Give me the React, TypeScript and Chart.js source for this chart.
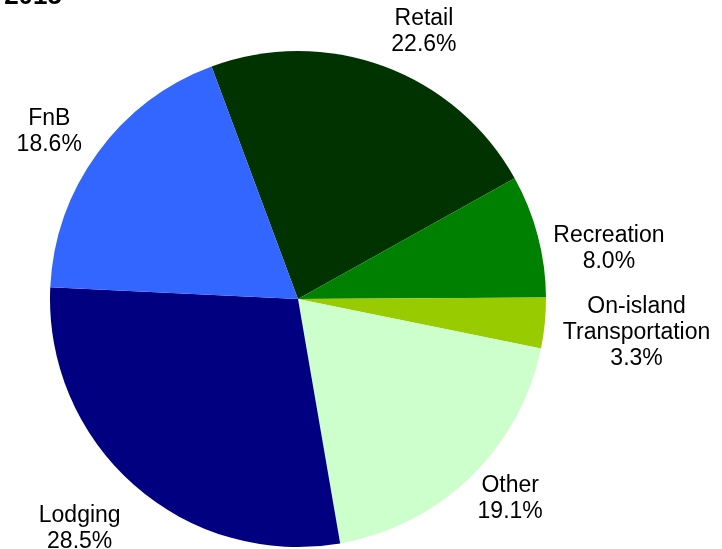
import React, { useEffect, useRef } from "react";
import { Chart, registerables } from "chart.js";

Chart.register(...registerables);

const categories = ["Retail", "Recreation", "On-island Transportation", "Other", "Lodging", "FnB"];
const shares = [22.6, 8.0, 3.3, 19.1, 28.5, 18.6];
const sliceColors = ["#003300", "#008000", "#99CC00", "#CCFFCC", "#000080", "#3366FF"];
const titleText = "2015";
// small layout nudges (px) applied to each computed outside label position
const labelNudgeX = [24, 2, 4, 3, -16, -6];
const labelNudgeY = [9, 31, 1, -16, 1, 10];

const FONT = '23px "Liberation Sans", Arial, sans-serif';
const LINE_H = 26;
const GAP = 11;

const labelPlugin = {
  id: "outsideLabels",
  afterDraw(chart: any) {
    const ctx = chart.ctx;
    const meta = chart.getDatasetMeta(0);
    ctx.save();
    ctx.font = FONT;
    ctx.fillStyle = "#000";
    ctx.textAlign = "center";
    ctx.textBaseline = "middle";
    meta.data.forEach((arc: any, i: number) => {
      const p = arc.getProps(["x", "y", "startAngle", "endAngle", "outerRadius"], true);
      const mid = (p.startAngle + p.endAngle) / 2;
      const dx = Math.cos(mid);
      const dy = Math.sin(mid);
      const name = categories[i];
      let lines: string[] = ctx.measureText(name).width > 140 ? name.split(" ") : [name];
      lines = lines.concat([shares[i].toFixed(1) + "%"]);
      const w = Math.max(...lines.map((l) => ctx.measureText(l).width));
      const h = lines.length * LINE_H;
      const t = Math.abs(dx) * w / 2 + Math.abs(dy) * h / 2;
      const r = p.outerRadius + GAP + t;
      const cx = p.x + dx * r + labelNudgeX[i];
      const cy = p.y + dy * r + labelNudgeY[i];
      lines.forEach((l, k) => {
        ctx.fillText(l, cx, cy - h / 2 + LINE_H * (k + 0.5));
      });
    });
    // partially visible title at top
    ctx.font = 'bold 26px "Liberation Sans", Arial, sans-serif';
    ctx.textAlign = "right";
    ctx.textBaseline = "alphabetic";
    ctx.fillText(titleText, 62, 4);
    ctx.restore();
  },
};

export default function App() {
  const ref = useRef<HTMLCanvasElement>(null);
  useEffect(() => {
    if (!ref.current) return;
    const chart = new Chart(ref.current, {
      type: "pie",
      data: {
        labels: categories,
        datasets: [
          {
            data: shares,
            backgroundColor: sliceColors,
            borderWidth: 0,
          },
        ],
      },
      options: {
        responsive: false,
        animation: false,
        devicePixelRatio: 1,
        rotation: -20.4,
        layout: { padding: { left: 50, right: 176, top: 51, bottom: 2 } },
        plugins: {
          legend: { display: false },
          tooltip: { enabled: false },
          title: { display: false },
        },
      },
      plugins: [labelPlugin],
    });
    return () => chart.destroy();
  }, []);
  return (
    <div style={{ position: "fixed", left: 0, top: 0, width: 722, height: 549, background: "#fff" }}>
      <canvas ref={ref} width={722} height={549} style={{ width: 722, height: 549 }} />
    </div>
  );
}
